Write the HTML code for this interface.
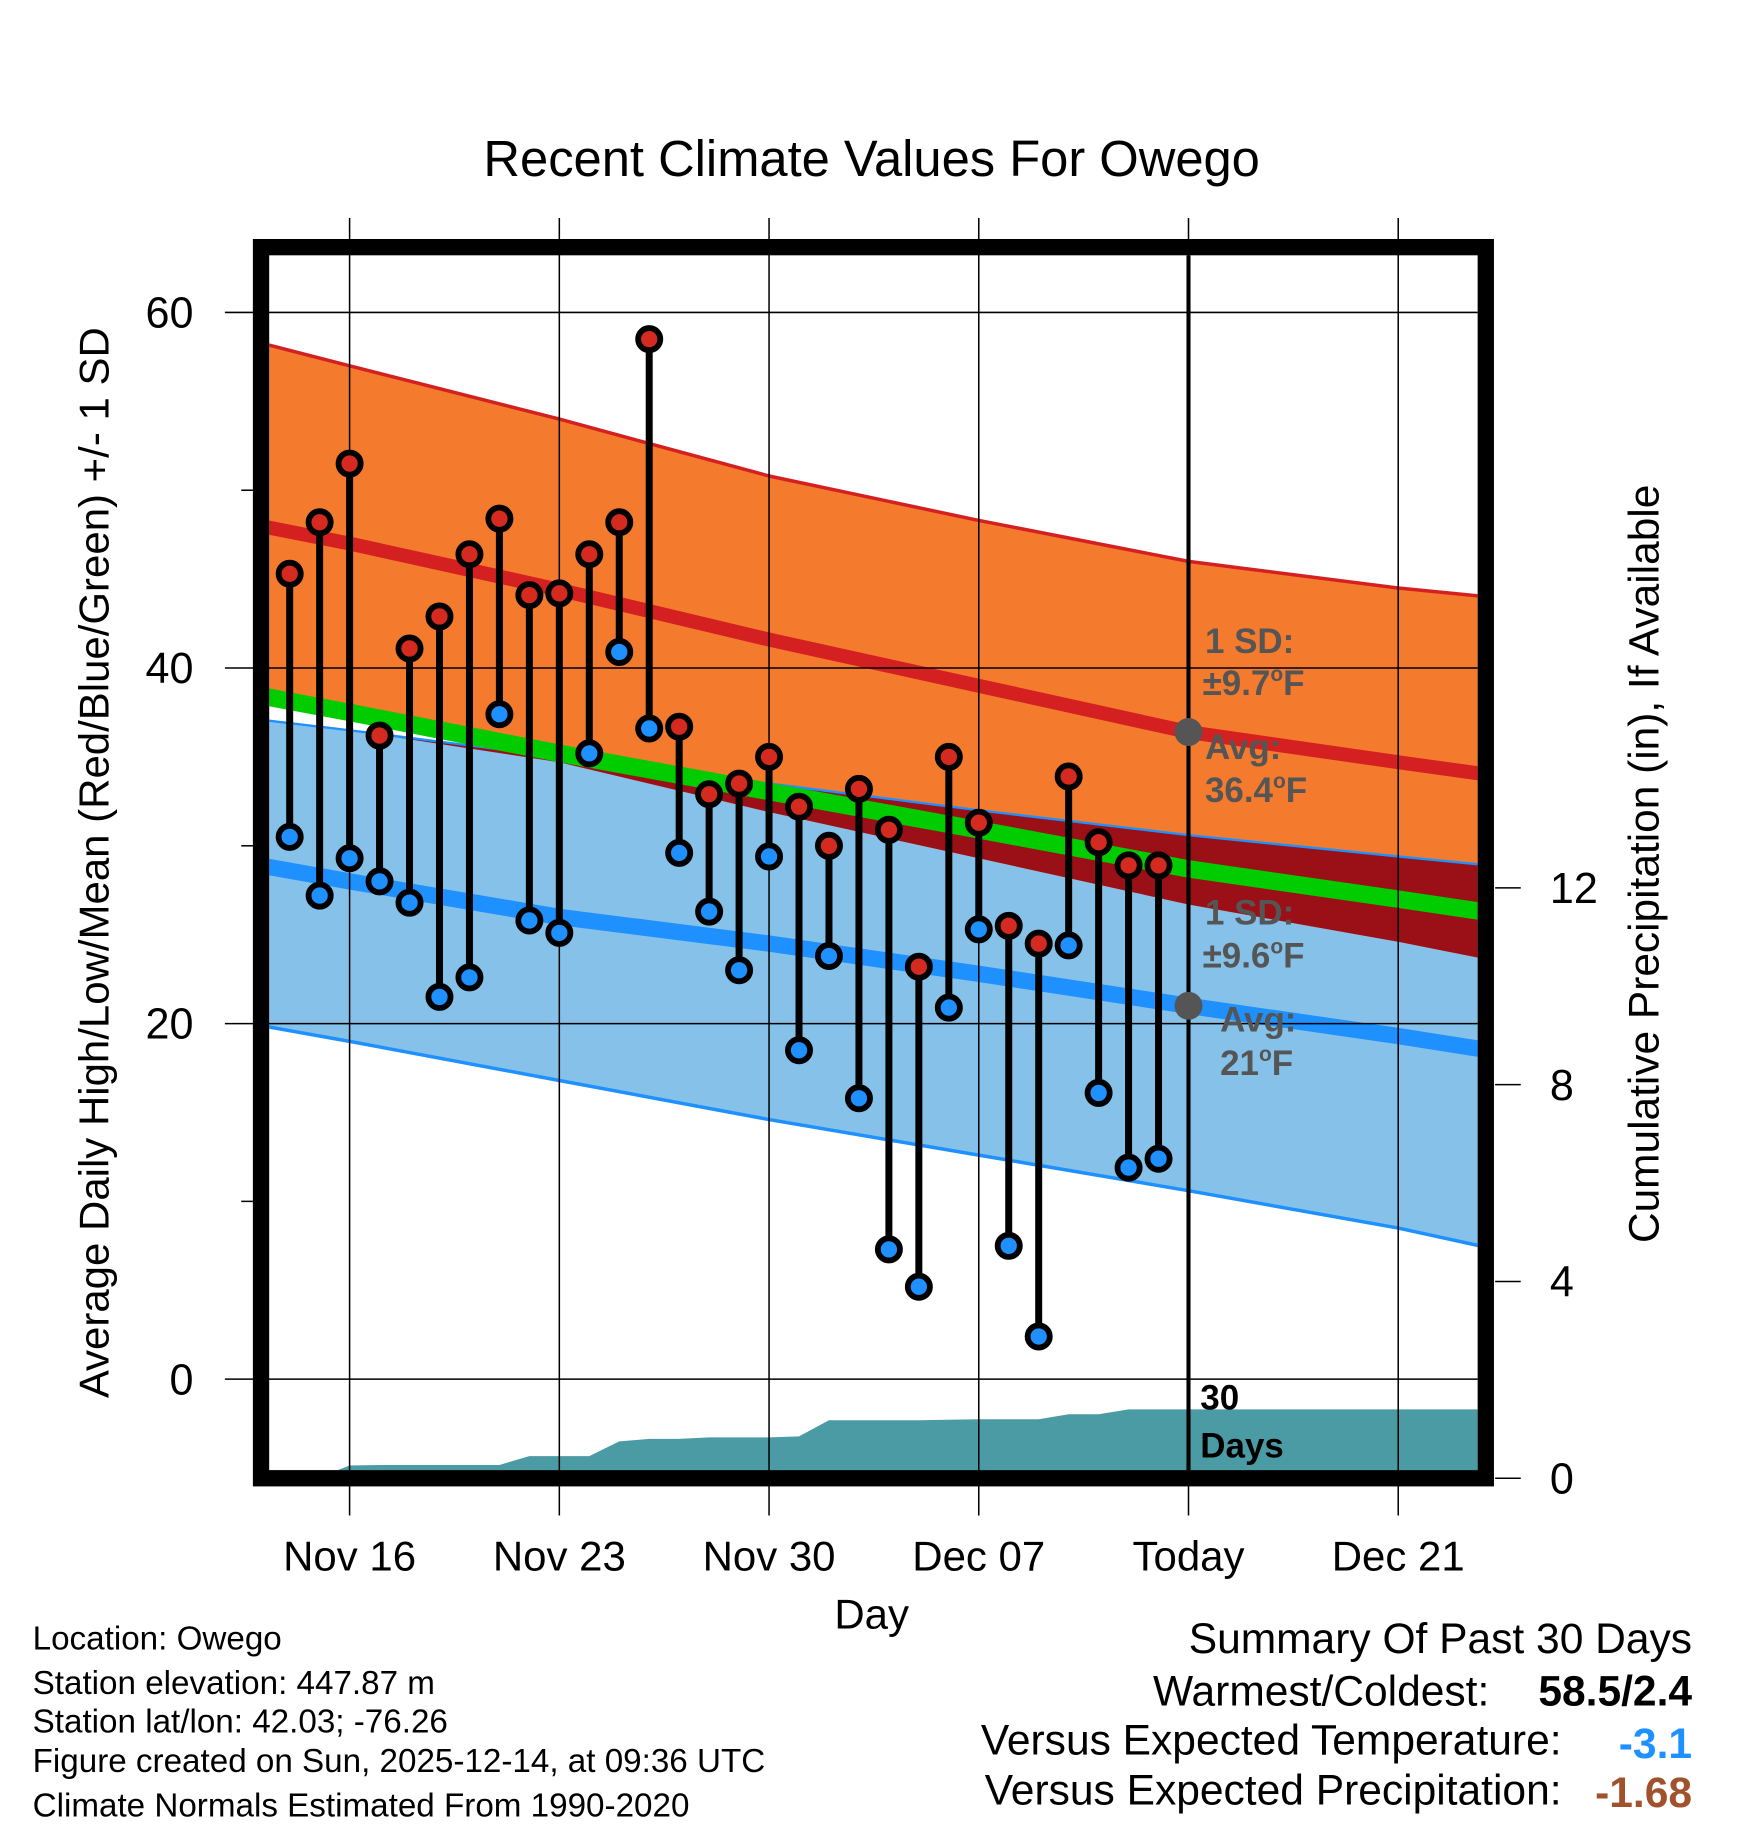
<!DOCTYPE html>
<html><head><meta charset="utf-8"><style>html,body{margin:0;padding:0;background:#fff}svg{display:block}text{font-family:"Liberation Sans",Arial,sans-serif}</style></head>
<body>
<svg id="chart" width="1748" height="1828" viewBox="0 0 1500 1568" preserveAspectRatio="none" xmlns="http://www.w3.org/2000/svg">
<defs><clipPath id="plotclip"><rect x="231" y="219" width="1037" height="1042"/></clipPath></defs>
<rect width="1500" height="1568" fill="#fff"/>
<text x="748" y="151" font-size="43.5" text-anchor="middle">Recent Climate Values For Owego</text>
<g id="bands" clip-path="url(#plotclip)"></g>
<g id="grid"></g>
<g id="marks" clip-path="url(#plotclip)"></g>
<g font-size="30" font-weight="bold" fill="#555">
<text x="1034" y="560">1 SD:</text>
<text x="1032" y="596">±9.7<tspan font-size="18" dy="-12">o</tspan><tspan dy="12">F</tspan></text>
<text x="1034" y="651">Avg:</text>
<text x="1034" y="688">36.4<tspan font-size="18" dy="-12">o</tspan><tspan dy="12">F</tspan></text>
<text x="1034" y="793">1 SD:</text>
<text x="1032" y="830">±9.6<tspan font-size="18" dy="-12">o</tspan><tspan dy="12">F</tspan></text>
<text x="1047" y="885">Avg:</text>
<text x="1047" y="922">21<tspan font-size="18" dy="-12">o</tspan><tspan dy="12">F</tspan></text>
<text x="1030" y="1209" fill="#000">30</text>
<text x="1030" y="1250" fill="#000">Days</text>
</g>
<g id="axes"></g>
<rect x="224" y="212" width="1051" height="1056" fill="none" stroke="#000" stroke-width="14"/>
<text x="748" y="1397" font-size="36" text-anchor="middle">Day</text>
<text transform="translate(93,740) rotate(-90)" font-size="36" text-anchor="middle">Average Daily High/Low/Mean (Red/Blue/Green) +/- 1 SD</text>
<text transform="translate(1423,741) rotate(-90)" font-size="36.4" text-anchor="middle">Cumulative Precipitation (in), If Available</text>
<g font-size="28.5">
<text x="28" y="1415">Location: Owego</text>
<text x="28" y="1453">Station elevation: 447.87 m</text>
<text x="28" y="1486">Station lat/lon: 42.03; -76.26</text>
<text x="28" y="1520">Figure created on Sun, 2025-12-14, at 09:36 UTC</text>
<text x="28" y="1558">Climate Normals Estimated From 1990-2020</text>
</g>
<g font-size="36.5">
<text x="1452" y="1418" text-anchor="end">Summary Of Past 30 Days</text>
<text x="1278" y="1463" text-anchor="end">Warmest/Coldest:</text>
<text x="1452" y="1463" text-anchor="end" font-weight="bold">58.5/2.4</text>
<text x="1340" y="1505" text-anchor="end">Versus Expected Temperature:</text>
<text x="1452" y="1508" text-anchor="end" font-weight="bold" fill="#1e90ff">-3.1</text>
<text x="1340" y="1548" text-anchor="end">Versus Expected Precipitation:</text>
<text x="1452" y="1550" text-anchor="end" font-weight="bold" fill="#a0522d">-1.68</text>
</g>
<script>
const days=['Nov14','Nov15','Nov16','Nov17','Nov18','Nov19','Nov20','Nov21','Nov22','Nov23','Nov24','Nov25','Nov26','Nov27','Nov28','Nov29','Nov30','Dec01','Dec02','Dec03','Dec04','Dec05','Dec06','Dec07','Dec08','Dec09','Dec10','Dec11','Dec12','Dec13'];
const highs=[45.3,48.2,51.5,36.2,41.1,42.9,46.4,48.4,44.1,44.2,46.4,48.2,58.5,36.7,32.9,33.5,35.0,32.2,30.0,33.2,30.9,23.2,35.0,31.3,25.5,24.5,33.9,30.2,28.9,28.9];
const lows=[30.5,27.2,29.3,28.0,26.8,21.5,22.6,37.4,25.8,25.1,35.2,40.9,36.6,29.6,26.3,23.0,29.4,18.5,23.8,15.8,7.3,5.2,20.9,25.3,7.5,2.4,24.4,16.1,11.9,12.4];
const precip=[0.0,0.02,0.26,0.27,0.27,0.27,0.27,0.27,0.45,0.45,0.45,0.75,0.8,0.8,0.83,0.83,0.83,0.85,1.18,1.18,1.18,1.18,1.19,1.2,1.2,1.2,1.3,1.3,1.4,1.4];
const normDays=[-3,0,7,14,21,28,35,38];
const highUpper=[58.3,57.0,54.0,50.8,48.3,46.0,44.5,44.0];
const highAvg=[48.0,47.0,44.4,41.6,39.0,36.4,34.7,34.0];
const highLower=[38.2,37.3,34.7,31.9,29.3,26.7,24.6,23.6];
const lowUpper=[37.1,36.5,35.0,33.5,32.0,30.6,29.4,28.9];
const lowAvg=[28.9,28.0,26.0,24.5,22.8,21.0,19.3,18.5];
const lowLower=[19.9,19.0,16.8,14.6,12.6,10.6,8.5,7.4];
const xTickLabels=['Nov 16','Nov 23','Nov 30','Dec 07','Today','Dec 21'];
const yTicks=[0,20,40,60];
const yMinor=[10,30,50];
const pTicks=[0,4,8,12];
const NS='http://www.w3.org/2000/svg';
const xs=d=>300+d*25.71;
const ys=v=>1183-v*15.25;
const yp=v=>1268-v*42.2;
function mk(p,tag,at){const e=document.createElementNS(NS,tag);for(const k in at)e.setAttribute(k,at[k]);p.appendChild(e);return e;}
const bands=document.getElementById('bands'),grid=document.getElementById('grid'),marks=document.getElementById('marks'),axes=document.getElementById('axes');
function pts(arr){return normDays.map((d,i)=>xs(d)+','+ys(arr[i]));}
function area(up,lo,fill,name){const p=pts(up).concat(pts(lo).reverse()).join(' ');const e=mk(bands,'polygon',{points:p,fill:fill});

}
area(lowUpper,lowLower,'#85c1e8','low-sd-band');
area(highUpper,highLower,'#f47a2e','high-sd-band');
const ov=lowUpper.map((v,i)=>Math.min(v,highLower[i]));
area(lowUpper,ov,'#9b1016','overlap-band');
function line(arr,col,w,name){const e=mk(bands,'polyline',{points:pts(arr).join(' '),fill:'none',stroke:col,'stroke-width':w});

}
line(highUpper,'#d42020',3,'high-upper-sd-line');
line(lowUpper,'#1e90ff',2,'low-upper-sd-line');
line(lowLower,'#1e90ff',3,'low-lower-sd-line');
line(highUpper.map((v,i)=>(highAvg[i]+lowAvg[i])/2),'#00cc00',15,'mean-line');
line(highAvg,'#d42020',12,'avg-high-line');
line(lowAvg,'#1e90ff',14,'avg-low-line');
let pp=[xs(-2)+','+1262];
precip.forEach((v,i)=>pp.push(xs(i-2)+','+yp(v)));
pp.push('1270,'+yp(precip[precip.length-1]));pp.push('1270,1262');
const pe=mk(bands,'polygon',{points:pp.join(' '),fill:'#4a9ba3'});


xTickLabels.forEach((t,i)=>{const x=xs(i*7);
const g=mk(grid,'line',{x1:x,x2:x,y1:187,y2:1300,stroke:'#000','stroke-width':1.3});


const tx=mk(axes,'text',{x:x,y:1347,'font-size':36,'text-anchor':'middle'});tx.textContent=t;

});
yTicks.forEach(v=>{const y=ys(v);
const g=mk(grid,'line',{x1:193,x2:1268,y1:y,y2:y,stroke:'#000','stroke-width':1.3});


const tx=mk(axes,'text',{x:166,y:y+13,'font-size':37,'text-anchor':'end'});tx.textContent=v;

});
yMinor.forEach(v=>{const t=mk(grid,'line',{x1:207,x2:217,y1:ys(v),y2:ys(v),stroke:'#000','stroke-width':1.3});

});
pTicks.forEach(v=>{const y=yp(v);
const t=mk(axes,'line',{x1:1283,x2:1305,y1:y,y2:y,stroke:'#000','stroke-width':1.3});


const tx=mk(axes,'text',{x:1330,y:y+13,'font-size':37,'text-anchor':'start'});tx.textContent=v;

});
const tl=mk(marks,'line',{x1:xs(28),x2:xs(28),y1:219,y2:1262,stroke:'#000','stroke-width':3.5});


days.forEach((d,i)=>{const x=xs(i-2);
const s=mk(marks,'line',{x1:x,x2:x,y1:ys(highs[i]),y2:ys(lows[i]),stroke:'#000','stroke-width':6});

});
days.forEach((d,i)=>{const x=xs(i-2);
const h=mk(marks,'circle',{cx:x,cy:ys(highs[i]),r:9.5,fill:'#d42a20',stroke:'#000','stroke-width':5});


const l=mk(marks,'circle',{cx:x,cy:ys(lows[i]),r:9.5,fill:'#1e90ff',stroke:'#000','stroke-width':5});

});
const ah=mk(marks,'circle',{cx:xs(28),cy:ys(highAvg[5]),r:12,fill:'#555'});


const al=mk(marks,'circle',{cx:xs(28),cy:ys(lowAvg[5]),r:12,fill:'#555'});


</script>
</svg>
</body></html>
